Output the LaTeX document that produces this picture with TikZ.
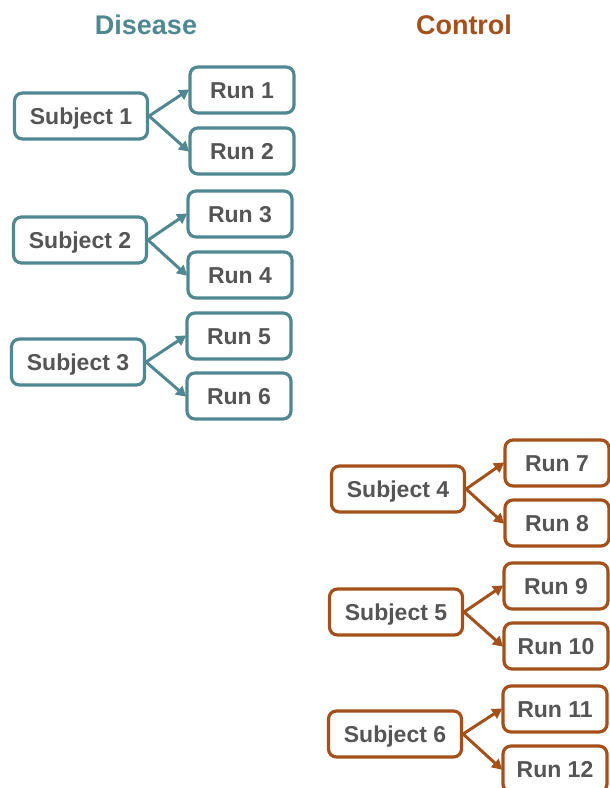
\documentclass[tikz,border=0pt]{standalone}
\usepackage{fontspec}
\setmainfont{Liberation Sans}
\usetikzlibrary{arrows.meta}
\definecolor{teal}{HTML}{4F8890}
\definecolor{brown}{HTML}{A3501A}
\definecolor{txt}{HTML}{555555}
\tikzset{
  box/.style={draw, line width=3.2pt, rounded corners=8pt, fill=white,
    text=txt, font=\fontsize{23}{27}\selectfont\bfseries, inner sep=0pt,
    text height=16.5pt, text depth=0pt,
    minimum height=46pt},
  subj/.style={box, minimum width=133pt},
  run/.style={box, minimum width=104pt},
  arr/.style={line width=3pt, -{Triangle[length=10pt,width=11pt]}, shorten >=-1pt},
  title/.style={font=\fontsize{27}{31}\selectfont\bfseries}
}
\begin{document}
\begin{tikzpicture}[x=1pt,y=-1pt]
\useasboundingbox (0,0) rectangle (610,788);
\node[title, text=teal] (td) at (146,25) {Disease};
\node[title, text=brown] (tc) at (464,25) {Control};
\begin{scope}[every node/.append style={draw=teal}]
\node[subj] (s1) at (81,116) {Subject 1};
\node[run] (r1) at (242,90) {Run 1};
\node[run] (r2) at (242,151) {Run 2};
\node[subj] (s2) at (80,240) {Subject 2};
\node[run] (r3) at (240,214) {Run 3};
\node[run] (r4) at (240,275) {Run 4};
\node[subj] (s3) at (78,362) {Subject 3};
\node[run] (r5) at (239,336) {Run 5};
\node[run] (r6) at (239,396) {Run 6};
\end{scope}
\begin{scope}[every node/.append style={draw=brown}]
\node[subj] (s4) at (398,489) {Subject 4};
\node[run] (r7) at (557,463) {Run 7};
\node[run] (r8) at (557,523) {Run 8};
\node[subj] (s5) at (396,612) {Subject 5};
\node[run] (r9) at (556,586) {Run 9};
\node[run] (r10) at (556,646) {Run 10};
\node[subj] (s6) at (395,734) {Subject 6};
\node[run] (r11) at (555,709) {Run 11};
\node[run] (r12) at (555,769) {Run 12};
\end{scope}
\draw[arr, teal] (s1.east) -- (r1.west);
\draw[arr, teal] (s1.east) -- (r2.west);
\draw[arr, teal] (s2.east) -- (r3.west);
\draw[arr, teal] (s2.east) -- (r4.west);
\draw[arr, teal] (s3.east) -- (r5.west);
\draw[arr, teal] (s3.east) -- (r6.west);
\draw[arr, brown] (s4.east) -- (r7.west);
\draw[arr, brown] (s4.east) -- (r8.west);
\draw[arr, brown] (s5.east) -- (r9.west);
\draw[arr, brown] (s5.east) -- (r10.west);
\draw[arr, brown] (s6.east) -- (r11.west);
\draw[arr, brown] (s6.east) -- (r12.west);
\end{tikzpicture}
\end{document}
